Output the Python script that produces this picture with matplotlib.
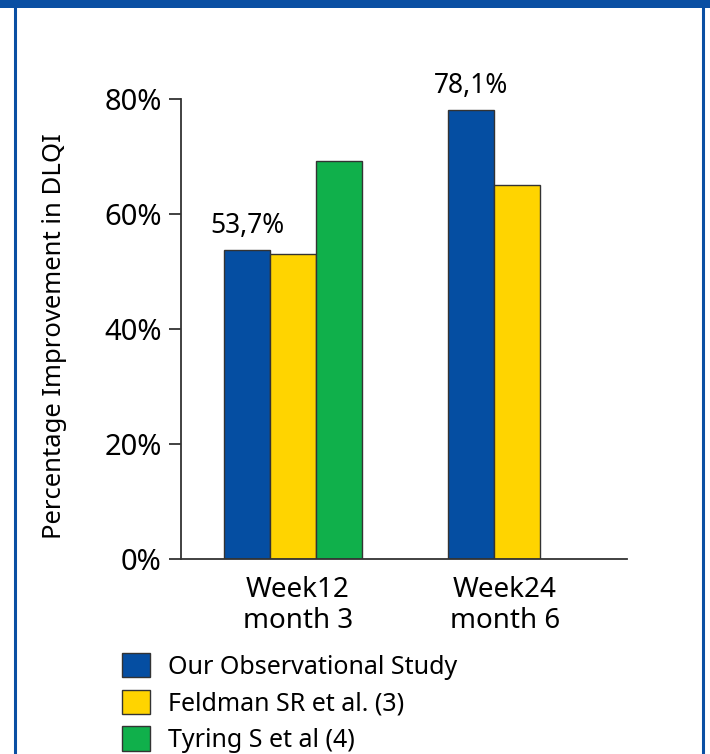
import numpy as np
import matplotlib.pyplot as plt
import matplotlib.patches as patches
from matplotlib.lines import Line2D

plt.rcParams['font.family'] = ['Noto Sans', 'DejaVu Sans']

# data
categories = ['Week12\nmonth 3', 'Week24\nmonth 6']
series = ['Our Observational Study', 'Feldman SR et al. (3)', 'Tyring S et al (4)']
our_study = [53.7, 78.1]
feldman = [53.0, 65.0]
tyring = [69.3, None]
value_labels = ['53,7%', '78,1%']
yticks = [0, 20, 40, 60, 80]

colors = ['#054ea2', '#ffd400', '#10b04b']
edge = '#333333'
blue_frame = '#0a4fa3'

fig = plt.figure(figsize=(7.1, 7.54), dpi=100)
ax = fig.add_axes([181/710, 195/754, 446/710, 460/754])

# bar width = 1 unit, groups placed by their left edge
group_left = np.array([0.935, 5.804])
for i, vals in enumerate([our_study, feldman, tyring]):
    for g, v in enumerate(vals):
        if v is None:
            continue
        ax.bar(group_left[g] + i, v, width=1.0, align='edge',
               color=colors[i], edgecolor=edge, linewidth=1.0, zorder=2)

for g in range(2):
    ax.text(group_left[g] + 0.5, our_study[g] + 3.0, value_labels[g],
            ha='center', va='baseline', fontsize=19, clip_on=False)

ax.set_xlim(0, 446/46)
ax.set_ylim(0, 80)
ax.set_yticks(yticks)
ax.set_yticklabels([f'{t}%' for t in yticks], fontsize=21)
ax.set_xticks([2.54, 7.04])
ax.set_xticklabels(categories, fontsize=20, linespacing=1.15)
ax.tick_params(axis='x', length=0, pad=12)
ax.tick_params(axis='y', length=9, width=1.3, color=edge, pad=5)
ax.set_ylabel('Percentage Improvement in DLQI', fontsize=18.5)
ax.yaxis.set_label_coords(-(181 - 67)/446, (559 - 336)/460)

for s in ['top', 'right']:
    ax.spines[s].set_visible(False)
for s in ['left', 'bottom']:
    ax.spines[s].set_color(edge)
    ax.spines[s].set_linewidth(1.3)

# legend
handles = [patches.Patch(facecolor=c, edgecolor=edge, linewidth=1.0) for c in colors]
fig.legend(handles, series, loc='upper left', bbox_to_anchor=(122/710, 1 - 653/754),
           frameon=False, fontsize=18, handlelength=1.12, handleheight=1.12,
           labelspacing=0.4, handletextpad=0.72, borderpad=0, borderaxespad=0)

# blue frame around the panel
fig.patches.append(patches.Rectangle((0, 1 - 8/754), 1, 8/754, transform=fig.transFigure,
                                     facecolor=blue_frame, edgecolor='none'))
for xp in [15/710, 703/710]:
    fig.lines.append(Line2D([xp, xp], [0, 1], transform=fig.transFigure,
                            color=blue_frame, linewidth=2.2))

fig.savefig('out.png', dpi=100)
